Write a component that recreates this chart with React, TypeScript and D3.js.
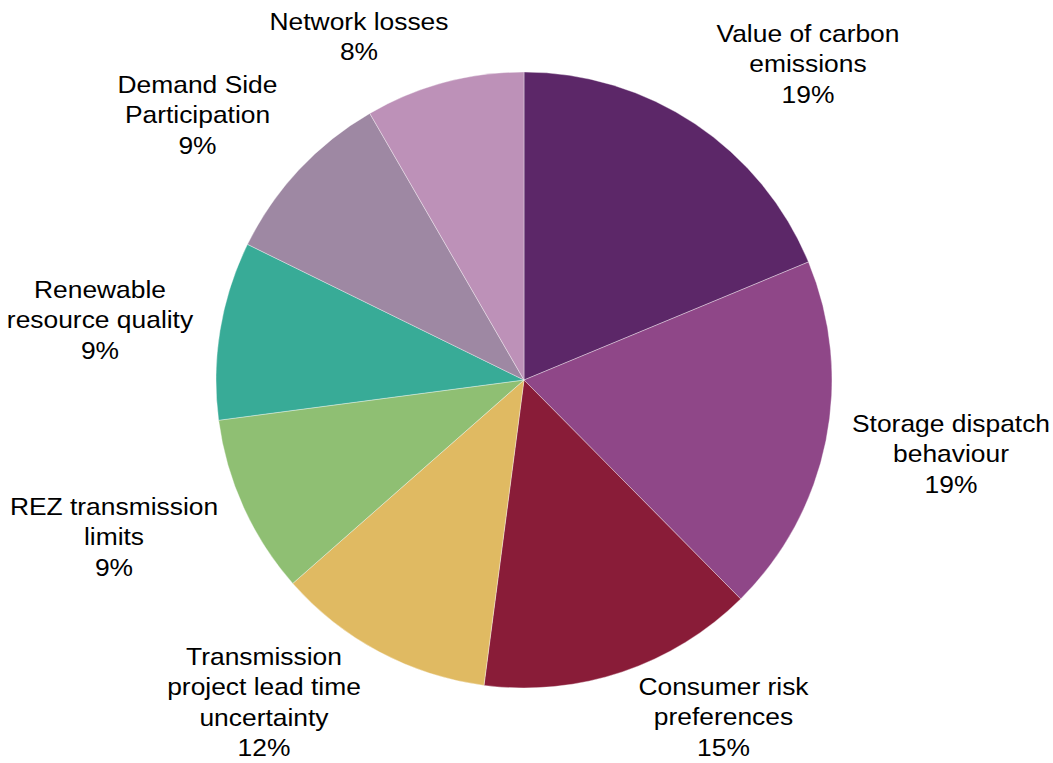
import React from "react";
import * as d3 from "d3";

const categories = [
  "Value of carbon emissions",
  "Storage dispatch behaviour",
  "Consumer risk preferences",
  "Transmission project lead time uncertainty",
  "REZ transmission limits",
  "Renewable resource quality",
  "Demand Side Participation",
  "Network losses",
];
const shares = [18.75, 18.85, 14.5, 11.45, 9.4, 9.35, 9.4, 8.35];
const shareLabels = ["19%", "19%", "15%", "12%", "9%", "9%", "9%", "8%"];
const labelLines = [
  ["Value of carbon", "emissions"],
  ["Storage dispatch", "behaviour"],
  ["Consumer risk", "preferences"],
  ["Transmission", "project lead time", "uncertainty"],
  ["REZ transmission", "limits"],
  ["Renewable", "resource quality"],
  ["Demand Side", "Participation"],
  ["Network losses"],
];

const colors = [
  "#5C2768",
  "#8F4788",
  "#891C38",
  "#E0BA62",
  "#8FBF73",
  "#38AB97",
  "#9E88A3",
  "#BD91B8",
];

// label layout: centre x and first baseline y
const labelLayout = [
  { x: 808, y: 42 },
  { x: 951, y: 432 },
  { x: 723.5, y: 695 },
  { x: 264, y: 665 },
  { x: 114, y: 515 },
  { x: 100, y: 298 },
  { x: 197.5, y: 93 },
  { x: 359, y: 30 },
];

const W = 1053;
const H = 763;
const CX = 524;
const CY = 380;
const R = 308;
const LINE = 30.4;
const FONT = 24;
const SX = 1.1;

export default function App() {
  const pie = d3
    .pie<number>()
    .sort(null)
    .value((d) => d)
    .startAngle(0)
    .endAngle(2 * Math.PI);
  const arcs = pie(shares);
  const arc = d3.arc<d3.PieArcDatum<number>>().innerRadius(0).outerRadius(R);

  return (
    <svg
      width={W}
      height={H}
      style={{ position: "absolute", left: 0, top: 0, background: "#fff" }}
      fontFamily="'Liberation Sans', Arial, sans-serif"
    >
      <g transform={`translate(${CX},${CY})`}>
        {arcs.map((a, i) => (
          <path
            key={categories[i]}
            d={arc(a) || ""}
            fill={colors[i]}
            stroke="#ffffff"
            strokeOpacity={0.6}
            strokeWidth={0.6}
          />
        ))}
      </g>
      {categories.map((c, i) => {
        const lines = [...labelLines[i], shareLabels[i]];
        const pos = labelLayout[i];
        return (
          <g key={c} transform={`translate(${pos.x},${pos.y}) scale(${SX},1)`}>
            {lines.map((t, j) => (
              <text
                key={j}
                x={0}
                y={j * LINE}
                textAnchor="middle"
                fontSize={FONT}
                fill="#000"
              >
                {t}
              </text>
            ))}
          </g>
        );
      })}
    </svg>
  );
}
